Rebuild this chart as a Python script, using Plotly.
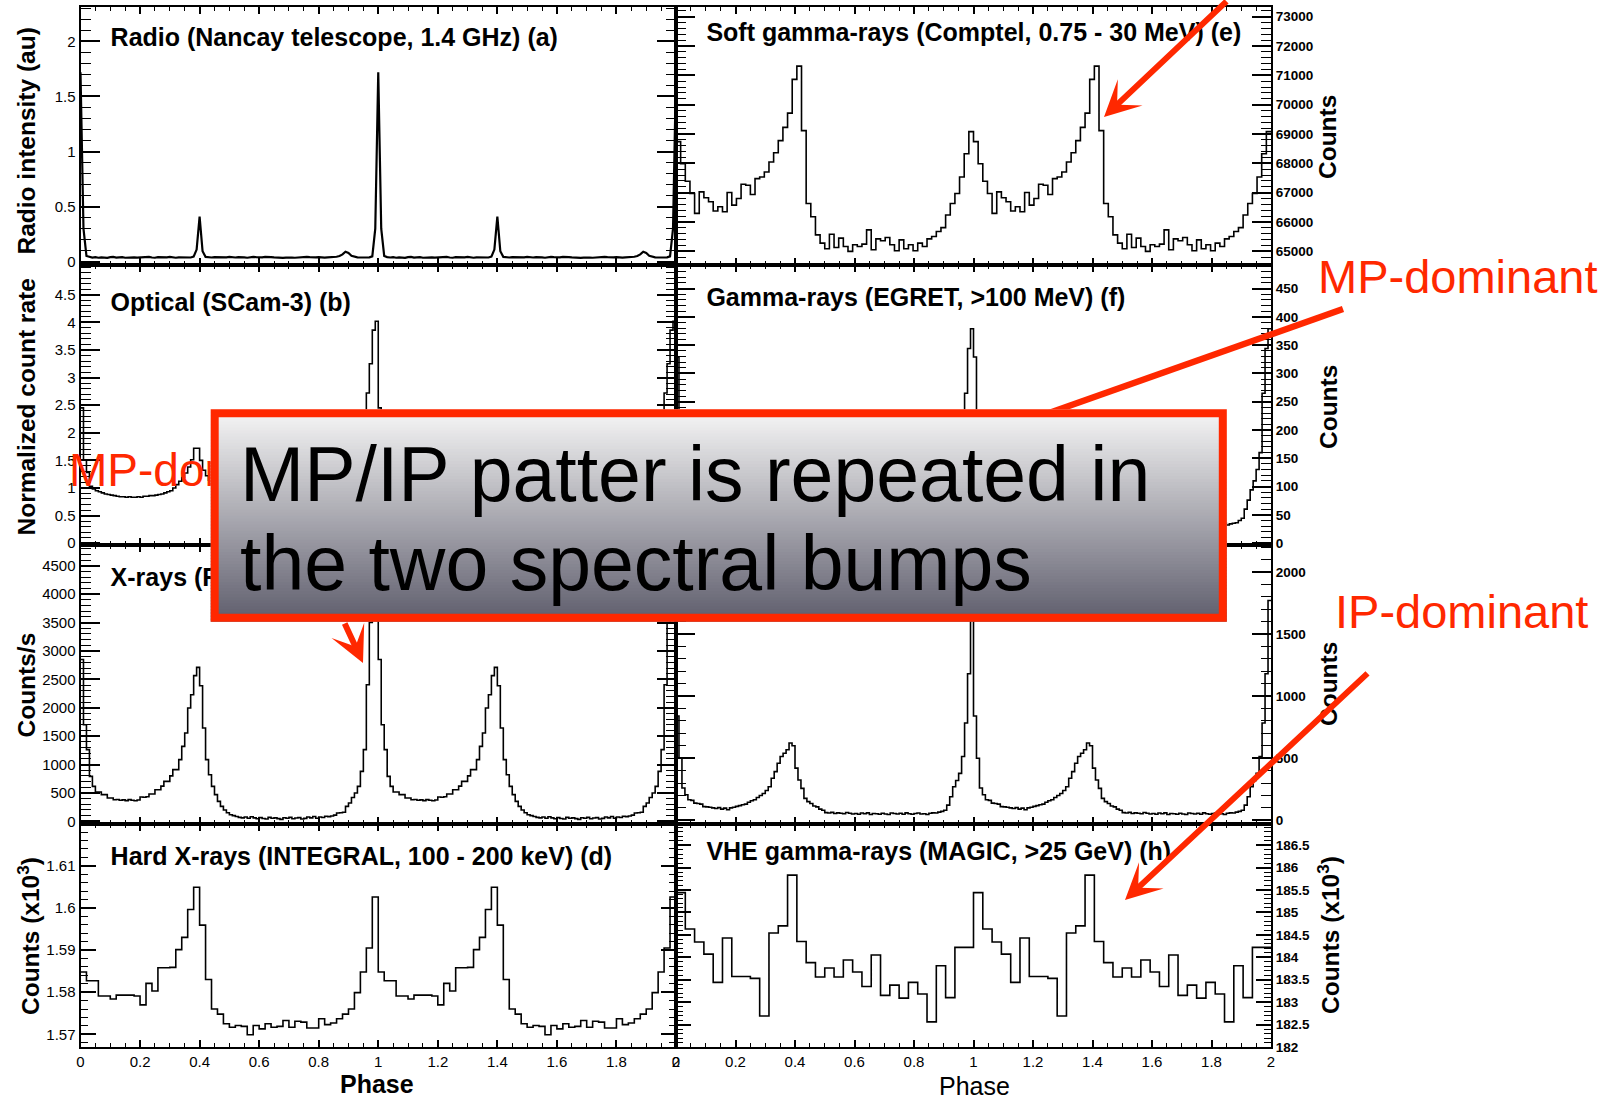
import plotly.graph_objects as go

W, H = 1622, 1100

# ---------------- data: one pulsar rotation per series (the phaseograms show two rotations) -------------
# (a) Radio, Nancay 1.4 GHz -- sampled every 0.01 in phase
radio_intensity = [
    1.72, 0.30, 0.052, 0.042, 0.038, 0.041, 0.036, 0.040, 0.039, 0.035,
    0.041, 0.043, 0.037, 0.039, 0.042, 0.036, 0.038, 0.044, 0.040, 0.037,
    0.039, 0.035, 0.041, 0.043, 0.038, 0.036, 0.041, 0.039, 0.037, 0.040,
    0.043, 0.038, 0.036, 0.040, 0.039, 0.041, 0.037, 0.038, 0.046, 0.110,
    0.410, 0.095, 0.044, 0.040, 0.038, 0.042, 0.040, 0.044, 0.041, 0.039,
    0.043, 0.040, 0.038, 0.041, 0.042, 0.039, 0.036, 0.040, 0.043, 0.041,
    0.038, 0.040, 0.044, 0.046, 0.042, 0.039, 0.036, 0.038, 0.035, 0.037,
    0.040, 0.038, 0.036, 0.039, 0.041, 0.040, 0.043, 0.041, 0.038, 0.040,
    0.042, 0.039, 0.037, 0.040, 0.041, 0.043, 0.045, 0.052, 0.066, 0.090,
    0.080, 0.054, 0.044, 0.040, 0.038, 0.036, 0.038, 0.040, 0.048, 0.300,
]
# (b) Optical, SCam-3 -- 100 bins
optical_rate = [
    2.45, 1.51, 1.28, 1.03, 0.98, 0.95, 0.93, 0.91, 0.89, 0.88,
    0.87, 0.86, 0.85, 0.84, 0.84, 0.83, 0.84, 0.83, 0.83, 0.84,
    0.83, 0.85, 0.85, 0.86, 0.86, 0.87, 0.88, 0.89, 0.91, 0.93,
    0.95, 1.00, 1.06, 1.12, 1.19, 1.27, 1.38, 1.51, 1.72, 1.72,
    1.50, 1.32, 1.22, 1.14, 1.08, 1.04, 1.01, 0.99, 0.98, 0.97,
    0.97, 0.96, 0.96, 0.95, 0.95, 0.94, 0.94, 0.93, 0.93, 0.92,
    0.92, 0.91, 0.91, 0.90, 0.90, 0.90, 0.89, 0.89, 0.89, 0.89,
    0.89, 0.90, 0.90, 0.91, 0.91, 0.92, 0.93, 0.94, 0.95, 0.96,
    0.97, 0.99, 1.01, 1.03, 1.06, 1.09, 1.13, 1.18, 1.24, 1.32,
    1.42, 1.55, 1.72, 1.95, 2.20, 2.38, 2.72, 3.25, 3.86, 4.02,
]
# (c) X-rays -- 100 bins, counts/s
xray_rate = [
    2850, 1700, 1262, 792, 616, 516, 516, 470, 470, 410,
    410, 380, 385, 372, 378, 365, 382, 370, 362, 375,
    428, 425, 432, 480, 480, 557, 557, 620, 704, 704,
    800, 910, 910, 1086, 1320, 1555, 1995, 2230, 2565, 2711,
    2388, 1643, 1086, 821, 616, 470, 352, 264, 200, 150,
    117, 100, 85, 70, 60, 75, 55, 80, 60, 45,
    65, 50, 40, 70, 55, 60, 48, 35, 62, 55,
    70, 45, 58, 66, 40, 52, 75, 60, 85, 55,
    75, 68, 90, 82, 95, 110, 147, 150, 160, 264,
    323, 420, 499, 616, 880, 1262, 2406, 3500, 4400, 4750,
]
# (d) Hard X-rays, INTEGRAL 100-200 keV -- 50 bins, counts x 10^3
hardx_counts_k = [
    1.5848, 1.5827, 1.5827, 1.5791, 1.5791, 1.5784, 1.5793, 1.5793, 1.5793, 1.5791,
    1.5770, 1.5821, 1.5803, 1.5858, 1.5858, 1.5859, 1.5901, 1.5930, 1.5996, 1.6049,
    1.5959, 1.5830, 1.5760, 1.5748, 1.5725, 1.5717, 1.5721, 1.5719, 1.5699, 1.5721,
    1.5713, 1.5725, 1.5717, 1.5719, 1.5733, 1.5717, 1.5731, 1.5729, 1.5715, 1.5715,
    1.5737, 1.5723, 1.5727, 1.5737, 1.5748, 1.5760, 1.5799, 1.5848, 1.5905, 1.6026,
]
# (e) Soft gamma-rays, COMPTEL -- 64 bins
comptel_counts = [
    68741, 67986, 67389, 66972, 66296, 67029, 66826, 66690, 66375, 66521,
    66352, 67006, 66578, 66803, 67288, 67254, 66938, 67479, 67536, 67705,
    68043, 68358, 68775, 69226, 69711, 70860, 71311, 69114, 66634, 66183,
    65564, 65282, 65090, 65586, 65135, 65451, 65169, 65000, 65225, 65169,
    65248, 65733, 65056, 65428, 65361, 65473, 65225, 65023, 65394, 65090,
    65225, 65023, 65282, 65169, 65428, 65507, 65676, 65811, 66240, 66634,
    66972, 67536, 68325, 69080,
]
# (f) Gamma-rays, EGRET >100 MeV -- 100 bins
egret_counts = [
    329, 180, 110, 80, 66, 58, 52, 48, 45, 42,
    40, 38, 41, 37, 39, 36, 40, 38, 42, 40,
    44, 46, 48, 52, 55, 60, 66, 72, 80, 90,
    100, 110, 125, 140, 155, 170, 185, 200, 215, 205,
    160, 110, 75, 58, 50, 44, 40, 38, 36, 35,
    34, 33, 35, 32, 34, 31, 33, 35, 32, 34,
    33, 31, 34, 32, 30, 33, 35, 31, 33, 32,
    34, 32, 31, 33, 35, 32, 34, 31, 33, 34,
    32, 34, 33, 31, 35, 32, 34, 35, 36, 40,
    44, 60, 76, 94, 110, 130, 160, 265, 344, 379,
]
# (g) -- 100 bins
panel_g_counts = [
    840, 500, 260, 205, 165, 160, 138, 135, 130, 110,
    108, 105, 100, 95, 102, 90, 98, 85, 100, 105,
    112, 118, 125, 130, 145, 157, 165, 184, 200, 216,
    240, 270, 338, 392, 459, 514, 540, 568, 622, 600,
    420, 324, 257, 176, 150, 135, 115, 108, 90, 81,
    62, 58, 64, 55, 60, 57, 52, 63, 56, 50,
    55, 48, 58, 52, 60, 47, 55, 53, 49, 57,
    51, 46, 58, 54, 50, 56, 49, 60, 52, 48,
    55, 58, 50, 53, 47, 56, 60, 58, 66, 72,
    81, 122, 189, 270, 320, 378, 514, 784, 1180, 1770,
]
# (h) VHE gamma-rays, MAGIC >25 GeV -- 32 bins, counts x 10^3
magic_counts_k = [
    185.44, 184.63, 184.34, 184.07, 183.44, 184.43, 183.57, 183.57, 183.53, 182.69,
    184.54, 184.70, 185.83, 184.35, 183.88, 183.56, 183.76, 183.56, 183.94, 183.67,
    183.35, 184.05, 183.15, 183.38, 183.09, 183.44, 183.18, 182.56, 183.81, 183.10,
    184.22, 184.22,
]

panel_titles = [
    "Radio (Nancay telescope, 1.4 GHz) (a)",
    "Optical (SCam-3) (b)",
    "X-rays (ROSAT, 0.1 - 2.4 keV) (c)",
    "Hard X-rays (INTEGRAL, 100 - 200 keV) (d)",
    "Soft gamma-rays (Comptel, 0.75 - 30 MeV) (e)",
    "Gamma-rays (EGRET, >100 MeV) (f)",
    "Gamma-rays (EGRET, >1 GeV) (g)",
    "VHE gamma-rays (MAGIC, >25 GeV) (h)",
]
y_titles = [
    "Radio intensity (au)", "Normalized count rate", "Counts/s", "Counts (x10<sup>3</sup>)",
    "Counts", "Counts", "Counts", "Counts (x10<sup>3</sup>)",
]
box_lines = ["MP/IP patter is repeated in", "the two spectral bumps"]
note_mp = "MP-dominant"
note_ip = "IP-dominant"
x_title = "Phase"

# ---------------- layout geometry (pixels) ----------------
FONT = "Liberation Sans, Arial, Helvetica, sans-serif"
RED = "#ff2800"
LEFT = (80.5, 676.0)
RIGHT = (676.0, 1271.0)
ROWS = [(7.0, 265.0), (265.0, 545.0), (545.0, 824.0), (824.0, 1047.0)]


def xdom(col):
    return [col[0] / W, col[1] / W]


def ydom(row):
    return [1 - row[1] / H, 1 - row[0] / H]


def hist_xy(cycle):
    vals = list(cycle) * 2
    n = len(vals)
    xs = [2.0 * i / n for i in range(n)] + [2.0]
    ys = vals + [vals[-1]]
    return xs, ys


panels = [
    dict(col=LEFT, row=0, data=radio_intensity, kind="line", rng=[-0.03, 2.312], dtick=0.5, mdt=0.1, side="left", top=2),
    dict(col=LEFT, row=1, data=optical_rate, kind="hist", rng=[-0.034, 5.04], dtick=0.5, mdt=0.1, side="left", top=4.5),
    dict(col=LEFT, row=2, data=xray_rate, kind="hist", rng=[-47, 4866], dtick=500, mdt=100, side="left", fmt="d", top=4500),
    dict(col=LEFT, row=3, data=hardx_counts_k, kind="hist", rng=[1.5670, 1.6199], dtick=0.01, mdt=0.002, side="left", t0=1.57, top=1.61),
    dict(col=RIGHT, row=0, data=comptel_counts, kind="hist", rng=[64537, 73325], dtick=1000, mdt=200, side="right", fmt="d", t0=65000, top=73000),
    dict(col=RIGHT, row=1, data=egret_counts, kind="hist", rng=[-3.4, 491.7], dtick=50, mdt=10, side="right", fmt="d", top=450),
    dict(col=RIGHT, row=2, data=panel_g_counts, kind="hist", rng=[-30, 2217], dtick=500, mdt=100, side="right", fmt="d", top=2000),
    dict(col=RIGHT, row=3, data=magic_counts_k, kind="hist", rng=[182.0, 186.97], dtick=0.5, mdt=0.1, side="right", t0=182, top=186.5),
]

fig = go.Figure()
layout = dict(
    width=W, height=H, margin=dict(l=0, r=0, t=0, b=0),
    paper_bgcolor="white", plot_bgcolor="rgba(0,0,0,0)",
    showlegend=False, font=dict(family=FONT, color="black"),
)

for i, p in enumerate(panels):
    k = i + 1
    xs_name = "x" if k == 1 else f"x{k}"
    ys_name = "y" if k == 1 else f"y{k}"
    if p["kind"] == "line":
        n = len(p["data"])
        xs = [i2 / n for i2 in range(2 * n + 1)]
        ys = list(p["data"]) * 2 + [p["data"][0]]
        fig.add_trace(go.Scatter(x=xs, y=ys, mode="lines", line=dict(color="black", width=2.2),
                                 xaxis=xs_name, yaxis=ys_name, hoverinfo="skip"))
    else:
        xs, ys = hist_xy(p["data"])
        fig.add_trace(go.Scatter(x=xs, y=ys, mode="lines", line=dict(color="black", width=1.6, shape="hv"),
                                 xaxis=xs_name, yaxis=ys_name, hoverinfo="skip"))
    bottom = p["row"] == 3
    layout[f"xaxis{k}"] = dict(
        domain=xdom(p["col"]), anchor=ys_name, range=[0, 2], tick0=0, dtick=0.2,
        ticks="inside", ticklen=7, tickwidth=1.5, tickcolor="black",
        minor=dict(ticks="inside", ticklen=4, dtick=0.05, tick0=0, tickcolor="black", tickwidth=1),
        showline=True, linecolor="black", linewidth=2, mirror="allticks",
        showgrid=False, zeroline=False, showticklabels=bottom, automargin=False,
        tickfont=dict(family=FONT, size=15, color="black"), fixedrange=True,
    )
    small = p["row"] == 3
    t0 = p.get("t0", 0)
    nmaj = int(round((p["top"] - t0) / p["dtick"]))
    tvals = [round(t0 + j * p["dtick"], 6) for j in range(nmaj + 1)]
    yax = dict(
        domain=ydom(ROWS[p["row"]]), anchor=xs_name, range=p["rng"],
        tickmode="array", tickvals=tvals, side=p["side"],
        ticks="inside", ticklen=15 if small else 19, tickwidth=1.5, tickcolor="black",
        minor=dict(ticks="inside", ticklen=7 if small else 10, tickmode="linear", dtick=p["mdt"], tick0=t0,
                   tickcolor="black", tickwidth=1),
        showline=True, linecolor="black", linewidth=2, mirror="allticks",
        showgrid=False, zeroline=False, automargin=False, fixedrange=True,
        tickfont=dict(family=FONT, size=15 if p["side"] == "left" else 13.5, color="black",
                      weight="normal" if p["side"] == "left" else "bold"),
    )
    if "fmt" in p:
        yax["tickformat"] = p["fmt"]
    layout[f"yaxis{k}"] = yax

# full-canvas overlay axes (pixel coordinates) for texts that sit beneath the call-out box
layout["xaxis9"] = dict(domain=[0, 1], range=[0, W], visible=False, anchor="y9", fixedrange=True)
layout["yaxis9"] = dict(domain=[0, 1], range=[H, 0], visible=False, anchor="x9", fixedrange=True)

title_pos = [(110.6, 40), (110.6, 304.5), (110.6, 580), (110.6, 859),
             (706.4, 35), (706.4, 299.5), (706.4, 580), (706.4, 854)]
fig.add_trace(go.Scatter(
    x=[p[0] for p in title_pos], y=[p[1] for p in title_pos], text=panel_titles,
    mode="text", textposition="middle right",
    textfont=dict(family=FONT, size=25, color="black", weight="bold"),
    xaxis="x9", yaxis="y9", hoverinfo="skip"))
fig.add_trace(go.Scatter(
    x=[69], y=[474], text=[note_mp], mode="text", textposition="middle right",
    textfont=dict(family=FONT, size=46, color=RED),
    xaxis="x9", yaxis="y9", hoverinfo="skip"))

# ---------------- shapes: MP line + gradient call-out box ----------------
shapes = []
shapes.append(dict(type="line", xref="paper", yref="paper", layer="above",
                   x0=1343 / W, y0=1 - 309 / H, x1=1049 / W, y1=1 - 413 / H,
                   line=dict(color=RED, width=6.5)))
bx0, bx1, by0, by1 = 210.7, 1226.8, 409.3, 621.7
n_strips = 70
top_rgb = (247, 247, 247)
bot_rgb = (94, 93, 108)
for s in range(n_strips):
    t = (s + 0.5) / n_strips
    c = tuple(round(top_rgb[j] + (bot_rgb[j] - top_rgb[j]) * t) for j in range(3))
    ya = by0 + (by1 - by0) * s / n_strips
    yb = min(by1, by0 + (by1 - by0) * (s + 1) / n_strips + 0.8)
    shapes.append(dict(type="rect", xref="paper", yref="paper", layer="above",
                       x0=bx0 / W, x1=bx1 / W, y0=1 - yb / H, y1=1 - ya / H,
                       fillcolor=f"rgb{c}", line=dict(width=0)))
shapes.append(dict(type="rect", xref="paper", yref="paper", layer="above",
                   x0=(bx0 + 4) / W, x1=(bx1 - 4) / W, y0=1 - (by1 - 4) / H, y1=1 - (by0 + 4) / H,
                   fillcolor="rgba(0,0,0,0)", line=dict(color=RED, width=8)))
layout["shapes"] = shapes

# ---------------- annotations ----------------
ann = []
ytitle_pos = [(25.5, 141), (25.5, 407), (25.5, 685), (28, 936),
              (1328, 137), (1328, 407), (1328, 684), (1328, 935)]
for txt, (x, y) in zip(y_titles, ytitle_pos):
    ann.append(dict(text=txt, x=x / W, y=1 - y / H, xref="paper", yref="paper", showarrow=False,
                    textangle=-90, xanchor="center", yanchor="middle",
                    font=dict(family=FONT, size=24.5, color="black", weight="bold")))
ann.append(dict(text=x_title, x=377 / W, y=1 - 1084 / H, xref="paper", yref="paper", showarrow=False,
                xanchor="center", yanchor="middle", font=dict(family=FONT, size=25, color="black", weight="bold")))
ann.append(dict(text=x_title, x=974 / W, y=1 - 1086 / H, xref="paper", yref="paper", showarrow=False,
                xanchor="center", yanchor="middle", font=dict(family=FONT, size=25, color="black")))
ann.append(dict(text=note_mp, x=1316 / W, y=1 - 276 / H, xref="paper", yref="paper", showarrow=False,
                xanchor="left", yanchor="middle", font=dict(family=FONT, size=47, color=RED)))
ann.append(dict(text=note_ip, x=1333 / W, y=1 - 611 / H, xref="paper", yref="paper", showarrow=False,
                xanchor="left", yanchor="middle", font=dict(family=FONT, size=47, color=RED)))
for txt, yc in zip(box_lines, (474, 563)):
    ann.append(dict(text=txt, x=238 / W, y=1 - yc / H, xref="paper", yref="paper", showarrow=False,
                    xanchor="left", yanchor="middle", font=dict(family=FONT, size=77, color="black")))


def arrow(tip, start):
    return dict(x=tip[0] / W, y=1 - tip[1] / H, xref="paper", yref="paper",
                ax=start[0] - tip[0], ay=start[1] - tip[1], axref="pixel", ayref="pixel",
                text="", showarrow=True, arrowhead=3, arrowsize=1.0, arrowwidth=6,
                arrowcolor=RED, standoff=0, startstandoff=0, font=dict(size=1))


ann.append(arrow((1104, 117), (1228, 0)))
ann.append(arrow((1125, 900), (1369, 672)))
ann.append(arrow((363, 663), (344, 622)))
layout["annotations"] = ann

fig.update_layout(**layout)
fig.write_html("out.html")
